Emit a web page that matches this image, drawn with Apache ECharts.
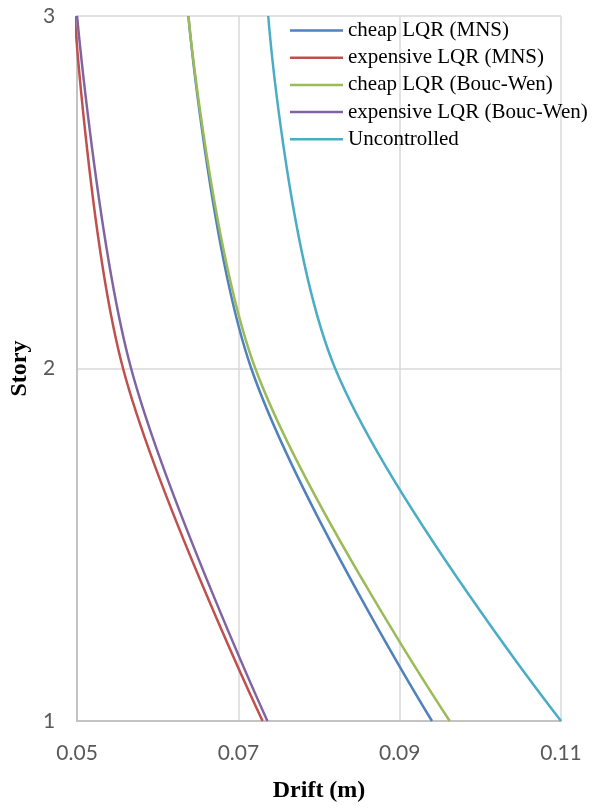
<!DOCTYPE html>
<html>
<head>
<meta charset="utf-8">
<script src="https://cdn.jsdelivr.net/npm/echarts@6/dist/echarts.min.js"></script>
<style>
  html, body { margin: 0; padding: 0; background: #ffffff; }
  #chart { width: 595px; height: 808px; }
</style>
</head>
<body>
<div id="chart"></div>
<script>
// Story levels (vertical axis)
const stories = [1, 2, 3];

// Peak inter-story drift (m) per story, bottom to top
const cheapMNS = [0.0940, 0.0716, 0.0638];
const expensiveMNS = [0.0730, 0.0557, 0.0497];
const cheapBoucWen = [0.0962, 0.0721, 0.0638];
const expensiveBoucWen = [0.0736, 0.0567, 0.0500];
const uncontrolled = [0.1100, 0.0820, 0.0737];

const seriesNames = [
  'cheap LQR (MNS)',
  'expensive LQR (MNS)',
  'cheap LQR (Bouc-Wen)',
  'expensive LQR (Bouc-Wen)',
  'Uncontrolled'
];
const seriesValues = [cheapMNS, expensiveMNS, cheapBoucWen, expensiveBoucWen, uncontrolled];
const seriesColors = ['#4F81BD', '#C0504D', '#9BBB59', '#8064A2', '#4BACC6'];

// Pair each drift value with its story
function pairs(values) {
  return values.map((v, i) => [v, stories[i]]);
}

const chart = echarts.init(document.getElementById('chart'), null, { renderer: 'canvas' });

const serifFont = '"Liberation Serif", "Times New Roman", serif';
const sansFont = 'Lato, "Liberation Sans", sans-serif';

chart.setOption({
  animation: false,
  backgroundColor: '#ffffff',
  grid: { left: 74, right: 34, top: 16, bottom: 84, containLabel: false },
  legend: {
    orient: 'vertical',
    left: 290,
    top: 20,
    padding: 0,
    icon: 'rect',
    itemWidth: 53,
    itemHeight: 2.5,
    itemGap: 6.2,
    textStyle: { fontFamily: serifFont, fontSize: 21, color: '#000000', lineHeight: 21 },
    data: seriesNames
  },
  xAxis: {
    type: 'value',
    min: 0.05,
    max: 0.11,
    interval: 0.02,
    name: 'Drift (m)',
    nameLocation: 'middle',
    nameGap: 58,
    nameTextStyle: { fontFamily: serifFont, fontSize: 24, fontWeight: 'bold', color: '#000000' },
    axisLine: { show: true, lineStyle: { color: '#c3c3c3', width: 2 } },
    axisTick: { show: false },
    axisLabel: {
      margin: 22,
      fontFamily: sansFont,
      fontSize: 21,
      color: '#595959',
      formatter: v => v.toFixed(2)
    },
    splitLine: { show: true, lineStyle: { color: '#d9d9d9', width: 1.5 } }
  },
  yAxis: {
    type: 'value',
    min: 1,
    max: 3,
    interval: 1,
    name: 'Story',
    nameLocation: 'middle',
    nameGap: 37,
    nameTextStyle: { fontFamily: serifFont, fontSize: 24, fontWeight: 'bold', color: '#000000' },
    axisLine: { show: true, lineStyle: { color: '#c3c3c3', width: 2 } },
    axisTick: { show: false },
    axisLabel: {
      margin: 22,
      fontFamily: sansFont,
      fontSize: 21,
      color: '#595959'
    },
    splitLine: { show: true, lineStyle: { color: '#d9d9d9', width: 1.5 } }
  },
  series: seriesNames.map((name, i) => ({
    name: name,
    type: 'line',
    data: pairs(seriesValues[i]),
    smooth: 0.35,
    symbol: 'none',
    showSymbol: false,
    clip: true,
    color: seriesColors[i],
    lineStyle: { color: seriesColors[i], width: 2.5 }
  }))
});
</script>
</body>
</html>
